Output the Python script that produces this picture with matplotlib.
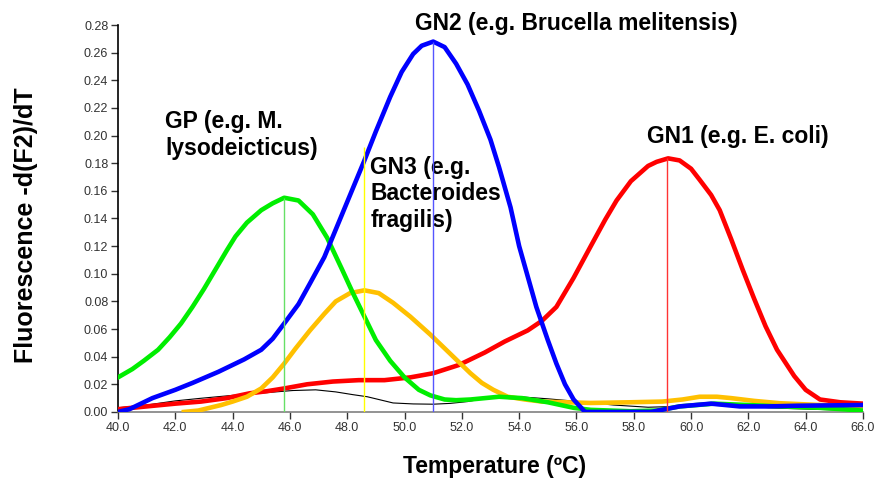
import matplotlib.pyplot as plt

plt.rcParams['font.family'] = ['Liberation Sans', 'DejaVu Sans']

# GP (green)
gp_t = [40.0, 40.5, 40.9, 41.4, 41.8, 42.2, 42.6, 43.0, 43.4, 43.8, 44.1, 44.5, 45.0,
        45.4, 45.8, 46.3, 46.8, 47.3, 47.8, 48.2, 48.6, 49.0, 49.5, 50.0, 50.5, 50.9,
        51.4, 51.8, 52.3, 52.8, 53.3, 54.1, 55.0, 55.9, 56.5, 57.9, 58.8, 59.6, 60.8,
        62.0, 63.1, 64.5, 66.0]
gp_v = [0.025, 0.031, 0.037, 0.045, 0.054, 0.064, 0.076, 0.089, 0.103, 0.117, 0.127,
        0.137, 0.146, 0.151, 0.155, 0.153, 0.143, 0.126, 0.104, 0.086, 0.069, 0.052,
        0.037, 0.025, 0.016, 0.012, 0.009, 0.0085, 0.009, 0.010, 0.011, 0.010, 0.007,
        0.003, 0.0015, 0.0005, 0.001, 0.004, 0.006, 0.005, 0.004, 0.003, 0.001]

# GN2 (blue)
gn2_t = [40.0, 40.4, 40.8, 41.2, 41.6, 42.0, 42.6, 43.5, 44.4, 45.0, 45.4, 45.8, 46.3,
         46.7, 47.2, 47.6, 48.0, 48.6, 49.0, 49.5, 49.9, 50.3, 50.6, 51.0, 51.4, 51.8,
         52.2, 52.6, 53.0, 53.3, 53.7, 54.0, 54.6, 55.0, 55.3, 55.6, 55.9, 56.3, 57.0,
         58.0, 58.6, 59.6, 60.7, 61.7, 62.7, 63.7, 66.0]
gn2_v = [0.0, 0.002, 0.006, 0.010, 0.013, 0.016, 0.021, 0.029, 0.038, 0.045, 0.053,
         0.064, 0.078, 0.093, 0.112, 0.132, 0.152, 0.182, 0.203, 0.228, 0.246, 0.259,
         0.265, 0.268, 0.264, 0.252, 0.237, 0.218, 0.197, 0.177, 0.148, 0.120, 0.076,
         0.052, 0.035, 0.020, 0.009, 0.0, 0.0, 0.0, 0.0, 0.004, 0.006, 0.004, 0.004,
         0.0045, 0.005]

# GN3 (orange)
gn3_t = [42.3, 42.8, 43.2, 43.6, 44.0, 44.5, 45.0, 45.4, 45.8, 46.2, 46.7, 47.2, 47.6,
         48.1, 48.6, 49.1, 49.6, 50.2, 50.9, 51.4, 51.9, 52.3, 52.7, 53.1, 53.6, 54.2,
         54.8, 55.6, 56.5, 57.9, 59.0, 59.7, 60.3, 60.9, 61.4, 62.2, 63.1, 64.5, 66.0]
gn3_v = [0.0, 0.001, 0.003, 0.005, 0.0075, 0.011, 0.017, 0.025, 0.035, 0.046, 0.059,
         0.071, 0.080, 0.086, 0.088, 0.086, 0.079, 0.069, 0.056, 0.046, 0.036, 0.028,
         0.021, 0.016, 0.011, 0.009, 0.0075, 0.007, 0.0065, 0.007, 0.0075, 0.009, 0.011,
         0.011, 0.010, 0.008, 0.0063, 0.005, 0.004]

# GN1 (red)
gn1_t = [40.0, 41.0, 42.0, 42.9, 43.8, 44.6, 45.2, 45.8, 46.6, 47.5, 48.4, 49.3, 50.2,
         51.0, 51.9, 52.8, 53.5, 54.3, 54.8, 55.3, 55.9, 56.5, 57.0, 57.4, 57.9, 58.5,
         58.8, 59.2, 59.6, 60.0, 60.3, 60.7, 61.0, 61.4, 61.8, 62.2, 62.6, 63.0, 63.6,
         64.0, 64.5, 65.2, 66.0]
gn1_v = [0.002, 0.004, 0.006, 0.0075, 0.010, 0.0135, 0.015, 0.017, 0.020, 0.022, 0.023,
         0.023, 0.025, 0.028, 0.034, 0.043, 0.051, 0.059, 0.066, 0.076, 0.097, 0.120,
         0.139, 0.153, 0.167, 0.178, 0.181, 0.1835, 0.182, 0.176, 0.168, 0.157, 0.146,
         0.125, 0.103, 0.082, 0.062, 0.045, 0.026, 0.016, 0.009, 0.007, 0.006]

# background trace (black)
bg_t = [40.0, 41.0, 42.0, 42.9, 44.0, 45.2, 46.1, 46.9, 47.6, 48.2, 48.7, 49.2, 49.6,
        50.3, 51.0, 51.6, 52.2, 52.8, 53.3, 54.0, 55.0, 56.1, 57.3, 58.5, 59.5, 60.3,
        60.8, 61.6, 62.4, 63.1, 64.5, 66.0]
bg_v = [0.003, 0.005, 0.008, 0.0099, 0.012, 0.014, 0.0155, 0.016, 0.0145, 0.0125, 0.011,
        0.0085, 0.0065, 0.0058, 0.0056, 0.0062, 0.0075, 0.0098, 0.0116, 0.011, 0.0095,
        0.0075, 0.005, 0.0034, 0.004, 0.0055, 0.006, 0.005, 0.0035, 0.0027, 0.0018, 0.001]

# Tm markers: temperature and height of the marker line
tm_t = [45.8, 48.6, 51.0, 59.15]
tm_top = [0.155, 0.192, 0.268, 0.1835]
tm_colors = ['#66e066', '#ffff00', '#5555ff', '#ff3333']

x_ticks = [40.0, 42.0, 44.0, 46.0, 48.0, 50.0, 52.0, 54.0, 56.0, 58.0, 60.0, 62.0, 64.0, 66.0]
y_ticks = [0.00, 0.02, 0.04, 0.06, 0.08, 0.10, 0.12, 0.14, 0.16, 0.18, 0.20, 0.22, 0.24, 0.26, 0.28]

fig = plt.figure(figsize=(8.74, 4.79), dpi=100)
ax = fig.add_axes([0.135, 0.14, 0.8524, 0.8078])

ax.plot(bg_t, bg_v, color='black', lw=0.8, zorder=2)
ax.plot(gn1_t, gn1_v, color='#ff0000', lw=3.3, zorder=3, solid_joinstyle='round')
ax.plot(gn3_t, gn3_v, color='#ffc000', lw=3.3, zorder=3, solid_joinstyle='round')
ax.plot(gp_t, gp_v, color='#00ee00', lw=3.3, zorder=4, solid_joinstyle='round')
ax.plot(gn2_t, gn2_v, color='#0000ff', lw=3.3, zorder=4, solid_joinstyle='round')

for t, top, c in zip(tm_t, tm_top, tm_colors):
    ax.vlines(t, 0, top, colors=c, lw=1.0, zorder=5)

ax.set_xlim(40, 66)
ax.set_ylim(0, 0.28)
ax.set_xticks(x_ticks)
ax.set_xticklabels(['%.1f' % t for t in x_ticks])
ax.set_yticks(y_ticks)
ax.set_yticklabels(['%.2f' % t for t in y_ticks])
ax.tick_params(direction='out', length=5, width=1, labelsize=9, colors='#333333', pad=2)

for s in ['top', 'right']:
    ax.spines[s].set_visible(False)
ax.spines['left'].set_color('black')
ax.spines['bottom'].set_color('#808080')
ax.spines['left'].set_linewidth(1.2)
ax.spines['bottom'].set_linewidth(1.2)

fig.text(26 / 874, 1 - 225 / 479, 'Fluorescence -d(F2)/dT', fontsize=18, fontweight='bold',
         rotation=90, ha='center', va='center')
fig.text(495 / 874, 1 - 473 / 479, 'Temperature (\u00baC)', fontsize=16.5, fontweight='bold',
         ha='center', va='baseline')

fs = 16.5
ax.text(56.0, 0.2765, 'GN2 (e.g. Brucella melitensis)', fontsize=fs, fontweight='bold',
        ha='center', va='baseline')
ax.text(41.64, 0.186, 'GP (e.g. M.\nlysodeicticus)', fontsize=fs, fontweight='bold',
        ha='left', va='baseline', linespacing=1.2)
ax.text(48.8, 0.134, 'GN3 (e.g.\nBacteroides\nfragilis)', fontsize=fs, fontweight='bold',
        ha='left', va='baseline', linespacing=1.2)
ax.text(58.45, 0.1944, 'GN1 (e.g. E. coli)', fontsize=fs, fontweight='bold',
        ha='left', va='baseline')

fig.savefig('out.png', dpi=100)
